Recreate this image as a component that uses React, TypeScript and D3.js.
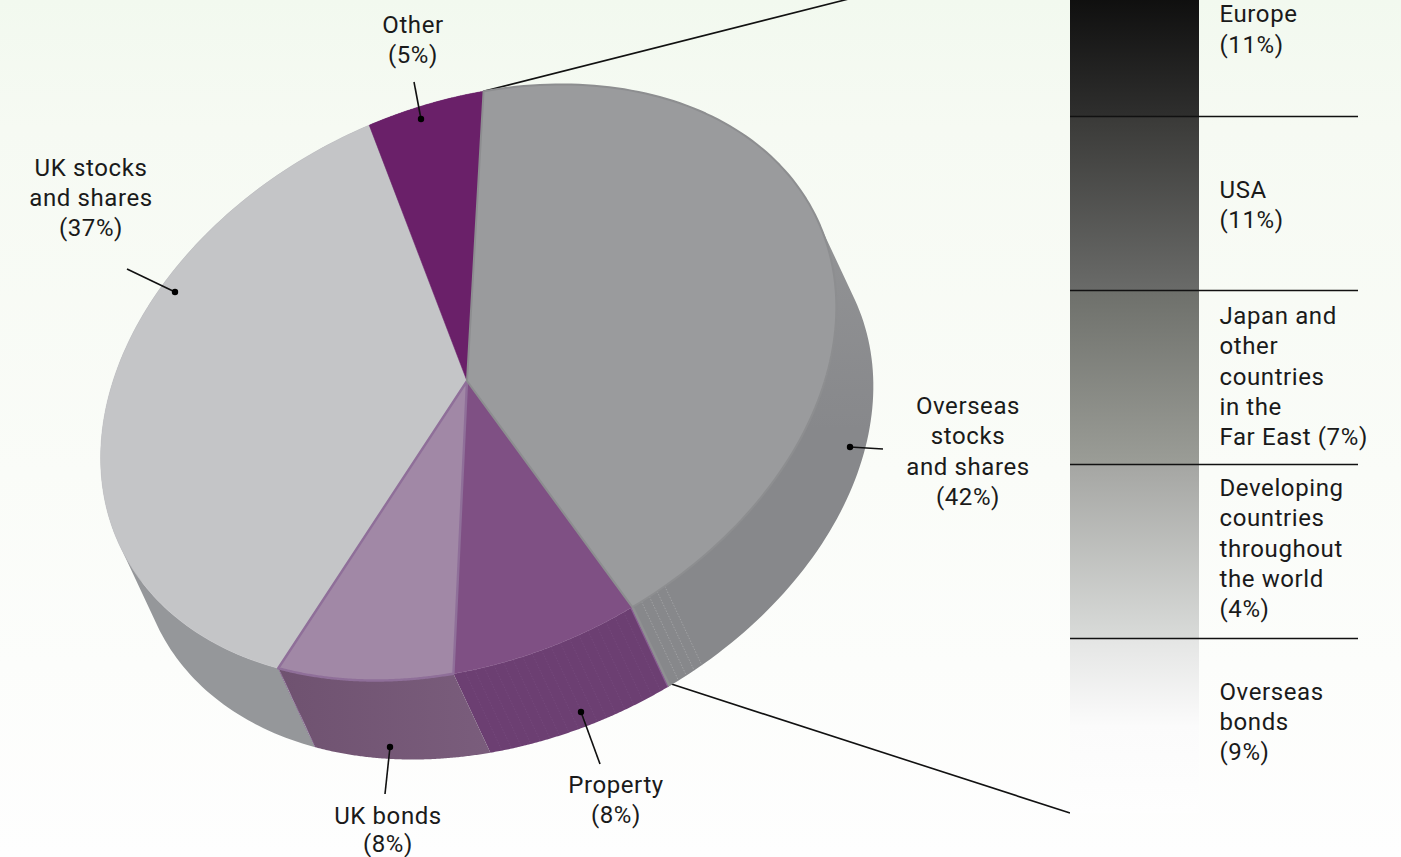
import React from "react";
import * as d3 from "d3";

// Asset allocation, percent of the whole portfolio
const assetNames = ["Overseas stocks and shares", "Property", "UK bonds", "UK stocks and shares", "Other"];
const assetShares = [42, 8, 8, 37, 5];
const topColours = ["#9a9b9d", "#7f5084", "#a188a6", "#c4c5c7", "#6a2069"];
const wallColours = ["url(#overseasWall)", "#6c3f72", "url(#bondsWall)", "#95979a", "#5a1c5a"];
const rimColours = ["#8d8e90", "#7f5084", "#8f6f99", "#c4c5c7", "#6a2069"];
const rimWidths = [2, 0.6, 2.4, 0.6, 0.6];
// Overseas and UK bonds go last so that their rims stay on top of their neighbours
const paintOrder = [3, 4, 1, 2, 0];

// Breakdown of the overseas slice
const regionNames = ["Europe", "USA", "Japan", "Developing", "Overseas bonds"];
const regionLabels = [
  ["Europe", "(11%)"],
  ["USA", "(11%)"],
  ["Japan and", "other", "countries", "in the", "Far East (7%)"],
  ["Developing", "countries", "throughout", "the world", "(4%)"],
  ["Overseas", "bonds", "(9%)"],
];
const regionRamps = [
  ["#000000", "#2f2f2e"],
  ["#3a3a38", "#6a6b69"],
  ["#6e706b", "#9b9d97"],
  ["#a5a6a3", "#d9dbd9"],
  ["#e4e5e4", "#fbfbfb", "#fefefe"],
];
const regionNudges = [-1, 0.5, -2, -4, -4.5];

const sliceLabels = [
  { lines: ["Overseas", "stocks", "and shares", "(42%)"], x: 968, y: 414, gap: 30.3 },
  { lines: ["Property", "(8%)"], x: 616, y: 793, gap: 30.3 },
  { lines: ["UK bonds", "(8%)"], x: 388, y: 824, gap: 27.5 },
  { lines: ["UK stocks", "and shares", "(37%)"], x: 91, y: 175.5, gap: 30.3 },
  { lines: ["Other", "(5%)"], x: 413, y: 33, gap: 30.3 },
];
const leaderLines = [
  { from: [883, 449], to: [850, 447] },
  { from: [600, 764], to: [581, 712] },
  { from: [385, 794], to: [390, 747] },
  { from: [127, 269], to: [175, 292] },
  { from: [414, 82], to: [421, 119] },
];

const WIDTH = 1401;
const HEIGHT = 857;
const DEG = Math.PI / 180;

// The disc is a tilted ellipse: an affine view of a unit circle
const hub = { x: 467, y: 381 };
const centre = { x: 468.5, y: 382.5 };
const semiMajor = 385;
const semiMinor = 275.5;
const tilt = -25 * DEG;
const depth = { x: 37, y: 79 };
const startAngle = 20.8 * DEG;

const project = (angle: number) => {
  // d3 pie angles run clockwise from twelve o'clock
  const u = semiMajor * Math.sin(angle);
  const v = -semiMinor * Math.cos(angle);
  return [
    centre.x + u * Math.cos(tilt) - v * Math.sin(tilt),
    centre.y + u * Math.sin(tilt) + v * Math.cos(tilt),
  ] as [number, number];
};

const pieLayout = d3
  .pie<number>()
  .sort(null)
  .startAngle(startAngle)
  .endAngle(startAngle + 2 * Math.PI);
const slices = pieLayout(assetShares);

const samples = (a0: number, a1: number) =>
  d3.range(0, 121).map((i) => a0 + ((a1 - a0) * i) / 120);

const line = d3.line<[number, number]>();

const topPath = (a0: number, a1: number) =>
  line([[hub.x, hub.y], ...samples(a0, a1).map((a) => project(a))]) + "Z";

// Each wall is a run of quads wound the same way, so a slice that wraps past
// the silhouette's tangent point still fills solidly
const wallPath = (a0: number, a1: number) => {
  const rim = samples(a0, a1).map((a) => project(a));
  return d3
    .pairs(rim)
    .map(([p, q]) => {
      const quad: [number, number][] = [
        p,
        q,
        [q[0] + depth.x, q[1] + depth.y],
        [p[0] + depth.x, p[1] + depth.y],
      ];
      return line(d3.polygonArea(quad) < 0 ? quad.reverse() : quad) + "Z";
    })
    .join("");
};

const wallSeam = (a: number) => {
  const [x, y] = project(a);
  return line([
    [x, y],
    [x + depth.x, y + depth.y],
  ]) as string;
};

// Facet seams on the front of the wall
const overseasSeamSteps = [1.6, 3, 4.4, 5.8];
const propertySeamSteps = d3.range(1.5, 28, 1.5);

const bands = d3
  .scaleBand<string>()
  .domain(regionNames)
  .range([-57, 813])
  .paddingInner(0)
  .paddingOuter(0);

const BAR_X0 = 1070;
const BAR_X1 = 1199;
const RULE_X1 = 1358;
const FONT = "Roboto, sans-serif";
const FONT_SIZE = 24;
const LINE_GAP = 30.3;

export default function App() {
  const overseas = slices[0];
  const property = slices[1];
  const bonds = slices[2];
  const openEdge = project(overseas.startAngle);
  const closeEdge = project(overseas.endAngle);
  const closeFoot = [closeEdge[0] + depth.x + 2, closeEdge[1] + depth.y - 2];

  return (
    <svg
      width={WIDTH}
      height={HEIGHT}
      viewBox={`0 0 ${WIDTH} ${HEIGHT}`}
      style={{ position: "absolute", left: 0, top: 0, display: "block" }}
    >
      <defs>
        <linearGradient id="page" x1="0" y1="0" x2="0" y2="1">
          <stop offset="0" stopColor="#f2f9ef" />
          <stop offset="0.15" stopColor="#f6faf3" />
          <stop offset="0.55" stopColor="#fafcf8" />
          <stop offset="1" stopColor="#fefefe" />
        </linearGradient>
        <linearGradient id="bondsWall" x1="0" y1="0" x2="1" y2="0">
          <stop offset="0" stopColor="#6f5270" />
          <stop offset="1" stopColor="#7a5d7c" />
        </linearGradient>
        <linearGradient id="overseasWall" gradientUnits="userSpaceOnUse" x1="0" y1="230" x2="0" y2="430">
          <stop offset="0" stopColor="#929395" />
          <stop offset="1" stopColor="#87888b" />
        </linearGradient>
        {regionRamps.map((ramp, i) => (
          <linearGradient key={i} id={`band${i}`} x1="0" y1="0" x2="0" y2="1">
            {ramp.map((c, k) => (
              <stop key={k} offset={k / (ramp.length - 1)} stopColor={c} />
            ))}
          </linearGradient>
        ))}
      </defs>
      <rect width={WIDTH} height={HEIGHT} fill="url(#page)" />

      {/* Connectors from the overseas slice to the breakdown column */}
      <g stroke="#111" strokeWidth={1.6} fill="none">
        <path d={line([[openEdge[0], openEdge[1]], [BAR_X0, bands.range()[0]]]) as string} />
        <path d={line([[closeFoot[0], closeFoot[1]], [BAR_X0, bands.range()[1]]]) as string} />
      </g>

      {/* Side walls first, then the top face over them */}
      {slices.map((s, i) => (
        <path key={i} d={wallPath(s.startAngle, s.endAngle)} fill={wallColours[i]} />
      ))}
      <path d={wallSeam(overseas.endAngle)} stroke="#8f9092" strokeWidth={3} fill="none" />
      <path d={wallSeam(overseas.endAngle + 0.25 * DEG)} stroke="#8a5f94" strokeWidth={1.2} fill="none" />
      <path d={wallSeam(bonds.endAngle)} stroke="#8f6f99" strokeWidth={1.2} strokeDasharray="1.5 1" fill="none" />
      <g stroke="#a9aaac" strokeWidth={1} strokeDasharray="1.5 1.5" fill="none" opacity={0.75}>
        {overseasSeamSteps.map((step) => (
          <path key={step} d={wallSeam(overseas.endAngle - step * DEG)} />
        ))}
      </g>
      <g stroke="#8d6497" strokeWidth={1} strokeDasharray="1.5 1.5" fill="none" opacity={0.25}>
        {propertySeamSteps.map((step) => (
          <path key={step} d={wallSeam(property.startAngle + step * DEG)} />
        ))}
      </g>
      {paintOrder.map((i) => (
        <path
          key={i}
          d={topPath(slices[i].startAngle, slices[i].endAngle)}
          fill={topColours[i]}
          stroke={rimColours[i]}
          strokeWidth={rimWidths[i]}
          strokeLinejoin="round"
        />
      ))}

      {/* Breakdown column */}
      {regionNames.map((name, i) => (
        <rect
          key={name}
          x={BAR_X0}
          y={bands(name)}
          width={BAR_X1 - BAR_X0}
          height={bands.bandwidth()}
          fill={`url(#band${i})`}
        />
      ))}
      <g stroke="#111" strokeWidth={1.5}>
        {regionNames.slice(1).map((name) => (
          <line key={name} x1={BAR_X0} x2={RULE_X1} y1={(bands(name) as number) - 0.5} y2={(bands(name) as number) - 0.5} />
        ))}
      </g>

      <g fontFamily={FONT} fontSize={FONT_SIZE} fill="#1a1a1a" letterSpacing={0.6}>
        {regionLabels.map((lines, i) => {
          const mid = (bands(regionNames[i]) as number) + bands.bandwidth() / 2;
          const first = mid - ((lines.length - 1) / 2) * LINE_GAP + 8.5 + regionNudges[i];
          return lines.map((t, k) => (
            <text key={`${i}-${k}`} x={1219.5} y={first + k * LINE_GAP}>
              {t}
            </text>
          ));
        })}
        {sliceLabels.map((label, i) =>
          label.lines.map((t, k) => (
            <text key={`${i}-${k}`} x={label.x} y={label.y + k * label.gap} textAnchor="middle">
              {t}
            </text>
          )),
        )}
      </g>

      {/* Leader lines ending in a dot on each slice */}
      {leaderLines.map((l, i) => (
        <g key={i}>
          <line x1={l.from[0]} y1={l.from[1]} x2={l.to[0]} y2={l.to[1]} stroke="#111" strokeWidth={1.6} />
          <circle cx={l.to[0]} cy={l.to[1]} r={3.2} fill="#000" />
        </g>
      ))}
    </svg>
  );
}
